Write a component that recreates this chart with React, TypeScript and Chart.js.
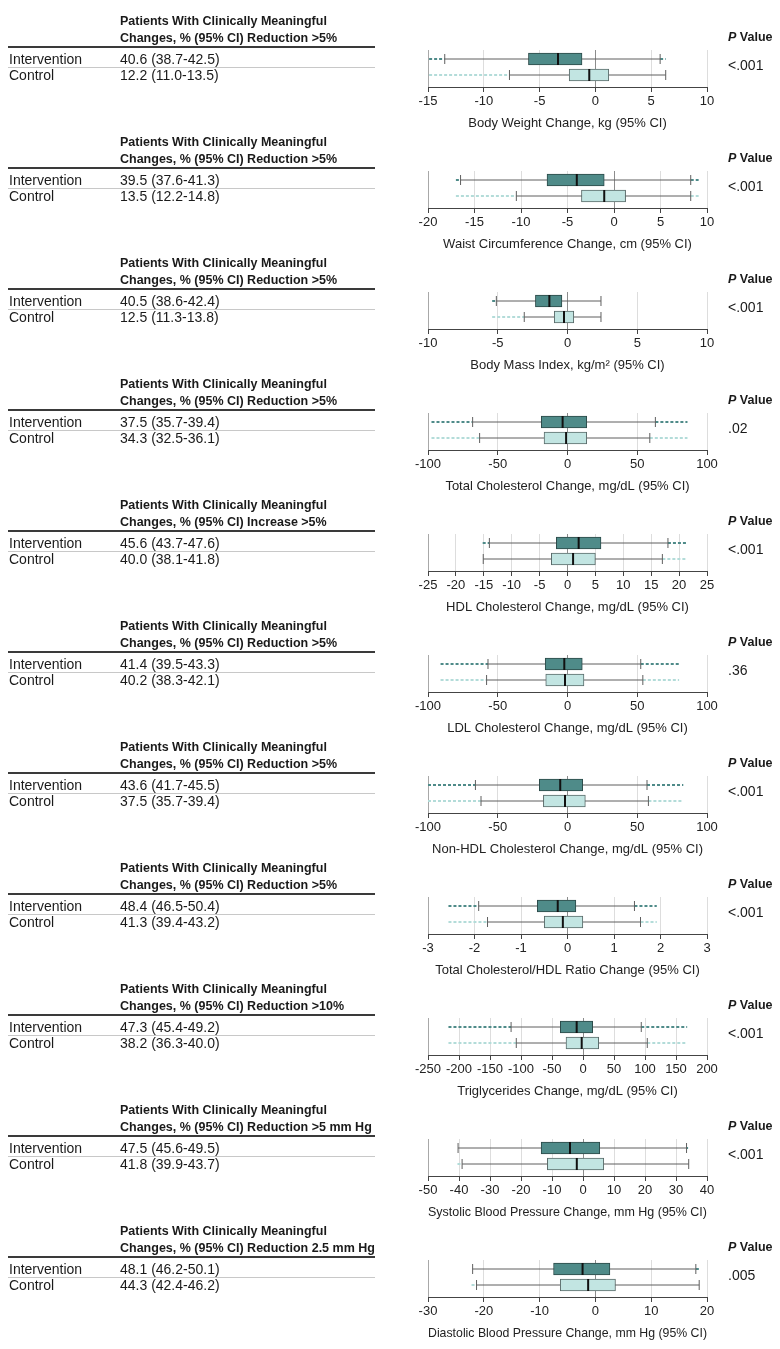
import React, { useEffect, useRef } from 'react';
import { Chart, registerables } from 'chart.js';

Chart.register(...registerables);

const FONT = "'Liberation Sans', Arial, sans-serif";

// ---------- DATA ----------
const axisTitles = [
  'Body Weight Change, kg (95% CI)',
  'Waist Circumference Change, cm (95% CI)',
  'Body Mass Index, kg/m\u00B2 (95% CI)',
  'Total Cholesterol Change, mg/dL (95% CI)',
  'HDL Cholesterol Change, mg/dL (95% CI)',
  'LDL Cholesterol Change, mg/dL (95% CI)',
  'Non-HDL Cholesterol Change, mg/dL (95% CI)',
  'Total Cholesterol/HDL Ratio Change (95% CI)',
  'Triglycerides Change, mg/dL (95% CI)',
  'Systolic Blood Pressure Change, mm Hg (95% CI)',
  'Diastolic Blood Pressure Change, mm Hg (95% CI)',
];

const criteria = [
  'Reduction >5%',
  'Reduction >5%',
  'Reduction >5%',
  'Reduction >5%',
  'Increase >5%',
  'Reduction >5%',
  'Reduction >5%',
  'Reduction >5%',
  'Reduction >10%',
  'Reduction >5 mm Hg',
  'Reduction 2.5 mm Hg',
];

const groupLabels = ['Intervention', 'Control'];

const interventionPct = [
  '40.6 (38.7-42.5)',
  '39.5 (37.6-41.3)',
  '40.5 (38.6-42.4)',
  '37.5 (35.7-39.4)',
  '45.6 (43.7-47.6)',
  '41.4 (39.5-43.3)',
  '43.6 (41.7-45.5)',
  '48.4 (46.5-50.4)',
  '47.3 (45.4-49.2)',
  '47.5 (45.6-49.5)',
  '48.1 (46.2-50.1)',
];

const controlPct = [
  '12.2 (11.0-13.5)',
  '13.5 (12.2-14.8)',
  '12.5 (11.3-13.8)',
  '34.3 (32.5-36.1)',
  '40.0 (38.1-41.8)',
  '40.2 (38.3-42.1)',
  '37.5 (35.7-39.4)',
  '41.3 (39.4-43.2)',
  '38.2 (36.3-40.0)',
  '41.8 (39.9-43.7)',
  '44.3 (42.4-46.2)',
];

const pValues = ['<.001', '<.001', '<.001', '.02', '<.001', '.36', '<.001', '<.001', '<.001', '<.001', '.005'];

const axisMin = [-15, -20, -10, -100, -25, -100, -100, -3, -250, -50, -30];
const axisMax = [10, 10, 10, 100, 25, 100, 100, 3, 200, 40, 20];
const axisStep = [5, 5, 5, 50, 5, 50, 50, 1, 50, 10, 10];

// [lowest outlier, lower whisker, Q1, median, Q3, upper whisker, highest outlier]
const interventionStats: (number | null)[][] = [
  [-14.9, -13.5, -6.0, -3.35, -1.2, 5.8, 6.3],
  [-17.0, -16.5, -7.2, -4.0, -1.05, 8.25, 9.1],
  [-5.4, -5.1, -2.3, -1.3, -0.4, 2.4, null],
  [-97.5, -68, -18.8, -3.5, 13.8, 63, 86],
  [-15.2, -14, -2, 2, 6, 18, 21.3],
  [-91, -57, -16, -2.3, 10.6, 52.5, 80],
  [-100, -66, -20.2, -5.2, 10.9, 57, 83],
  [-2.56, -1.91, -0.65, -0.21, 0.18, 1.44, 1.92],
  [-217, -116, -36.6, -10.2, 15.6, 94, 168],
  [null, -40.3, -13.5, -4.2, 5.4, 33.4, 33.9],
  [null, -22, -7.5, -2.3, 2.6, 18, 18.7],
];

const controlStats: (number | null)[][] = [
  [-14.9, -7.7, -2.35, -0.55, 1.2, 6.3, null],
  [-17.0, -10.5, -3.5, -1.05, 1.25, 8.25, 9.1],
  [-5.4, -3.1, -0.95, -0.25, 0.45, 2.4, null],
  [-97.5, -63, -16.8, -1, 13.8, 59, 86],
  [null, -15.1, -2.9, 1, 5, 17, 21.3],
  [-91, -58, -15.6, -1.8, 11.8, 54, 80],
  [-100, -62, -17.3, -1.8, 12.8, 58, 83],
  [-2.56, -1.72, -0.5, -0.1, 0.33, 1.57, 1.92],
  [-217, -107.6, -27.4, -2.1, 25.3, 103.7, 168],
  [-40.5, -39, -11.5, -2, 6.7, 34.1, null],
  [-22.2, -21.3, -6.3, -1.3, 3.6, 18.6, null],
];

// ---------- STYLE ----------
const TEAL = '#4f8b89';
const TEAL_BORDER = '#2c4a49';
const LIGHT = '#c2e5e2';
const LIGHT_BORDER = '#5a6b6a';
const LIGHT_OUT = '#b3dcd9';
const WHISKER = '#5f5f5f';
const TEXT = '#1a1a1a';

const PANEL_H = 121;
const PANEL_TOP = 10;

function buildConfig(i: number): any {
  const groups = [interventionStats[i], controlStats[i]];
  const fills = [TEAL, LIGHT];
  const borders = [TEAL_BORDER, LIGHT_BORDER];
  const outColors = [TEAL, LIGHT_OUT];
  const datasets: any[] = [];

  // boxes
  datasets.push({
    type: 'bar',
    indexAxis: 'y',
    data: groups.map((s, g) => ({ x: [s[2], s[4]], y: g + 1 })),
    backgroundColor: fills,
    borderColor: borders,
    borderWidth: 1,
    borderSkipped: false,
    barThickness: 12,
    order: 1,
  });

  groups.forEach((s, g) => {
    // whisker with caps
    datasets.push({
      type: 'line',
      data: [
        { x: s[1], y: g + 1 },
        { x: s[5], y: g + 1 },
      ],
      borderColor: WHISKER,
      borderWidth: 1,
      pointStyle: 'line',
      pointRotation: 90,
      pointRadius: 5,
      pointBorderColor: WHISKER,
      pointBorderWidth: 1,
      order: 2,
    });
    if (s[0] !== null) {
      datasets.push({
        type: 'line',
        data: [
          { x: s[0], y: g + 1 },
          { x: s[1], y: g + 1 },
        ],
        borderColor: outColors[g],
        borderWidth: 2,
        borderDash: [3, 2],
        pointRadius: 0,
        order: 3,
      });
    }
    if (s[6] !== null) {
      datasets.push({
        type: 'line',
        data: [
          { x: s[5], y: g + 1 },
          { x: s[6], y: g + 1 },
        ],
        borderColor: outColors[g],
        borderWidth: 2,
        borderDash: [3, 2],
        pointRadius: 0,
        order: 3,
      });
    }
  });

  // medians
  datasets.push({
    type: 'line',
    showLine: false,
    data: groups.map((s, g) => ({ x: s[3], y: g + 1 })),
    pointStyle: 'line',
    pointRotation: 90,
    pointRadius: 6,
    pointBorderColor: '#111',
    pointBorderWidth: 2,
    order: 0,
  });

  const textPlugin = {
    id: 'panelText' + i,
    afterDraw(chart: any) {
      const ctx = chart.ctx as CanvasRenderingContext2D;
      ctx.save();
      ctx.fillStyle = TEXT;
      ctx.textBaseline = 'alphabetic';
      ctx.textAlign = 'left';
      ctx.font = `bold 12.5px ${FONT}`;
      ctx.fillText('Patients With Clinically Meaningful', 120, 15);
      ctx.fillText('Changes, % (95% CI) ' + criteria[i], 120, 31.5);
      ctx.fillStyle = '#3a3a3a';
      ctx.fillRect(8, 36, 367, 2);
      ctx.fillStyle = '#c8c8c8';
      ctx.fillRect(8, 57, 367, 1);
      ctx.fillStyle = TEXT;
      ctx.font = `14px ${FONT}`;
      ctx.fillText(groupLabels[0], 9, 54);
      ctx.fillText(interventionPct[i], 120, 54);
      ctx.fillText(groupLabels[1], 9, 70);
      ctx.fillText(controlPct[i], 120, 70);
      ctx.font = `italic bold 12.5px ${FONT}`;
      ctx.fillText('P', 728, 30.5);
      const w = ctx.measureText('P').width;
      ctx.font = `bold 12.5px ${FONT}`;
      ctx.fillText(' Value', 728 + w, 30.5);
      ctx.font = `14px ${FONT}`;
      ctx.fillText(pValues[i], 728, 60);
      ctx.restore();
    },
  };

  return {
    type: 'bar',
    data: { datasets },
    options: {
      animation: false,
      responsive: false,
      devicePixelRatio: 1,
      events: [],
      layout: { padding: { left: 428, right: 73, top: 40, bottom: 0 } },
      plugins: { legend: { display: false }, tooltip: { enabled: false } },
      scales: {
        x: {
          type: 'linear',
          offset: false,
          min: axisMin[i],
          max: axisMax[i],
          afterFit: (scale: any) => {
            scale.height = 44;
          },
          ticks: {
            stepSize: axisStep[i],
            autoSkip: false,
            maxRotation: 0,
            padding: 1.5,
            color: '#222',
            font: { family: FONT, size: 13 },
          },
          grid: {
            offset: false,
            color: (c: any) =>
              c.tick && c.tick.value === 0 ? '#8c8c8c' : c.index === 0 ? '#a8a8a8' : '#dddddd',
            lineWidth: 1,
            tickLength: 5,
            tickColor: '#444',
            drawTicks: true,
          },
          border: { color: '#444', width: 1 },
          title: {
            display: true,
            text: axisTitles[i],
            color: '#222',
            font: { family: FONT, size: 13 },
            padding: { top: 0, bottom: 0 },
          },
        },
        y: {
          type: 'linear',
          offset: false,
          grid: { offset: false },
          min: 0.4375,
          max: 2.75,
          reverse: true,
          display: false,
        },
      },
    },
    plugins: [textPlugin],
  };
}

function Panel({ i }: { i: number }) {
  const ref = useRef<HTMLCanvasElement>(null);
  useEffect(() => {
    const canvas = ref.current;
    if (!canvas) return;
    const chart = new Chart(canvas, buildConfig(i));
    return () => chart.destroy();
  }, [i]);
  return (
    <canvas
      ref={ref}
      width={780}
      height={PANEL_H}
      style={{ position: 'absolute', left: 0, top: PANEL_TOP + PANEL_H * i, display: 'block', width: 780, height: PANEL_H }}
    />
  );
}

export default function App() {
  return (
    <div style={{ position: 'absolute', left: 0, top: 0, width: 780, height: 1349, background: '#fff' }}>
      {axisTitles.map((_, i) => (
        <Panel key={i} i={i} />
      ))}
    </div>
  );
}
